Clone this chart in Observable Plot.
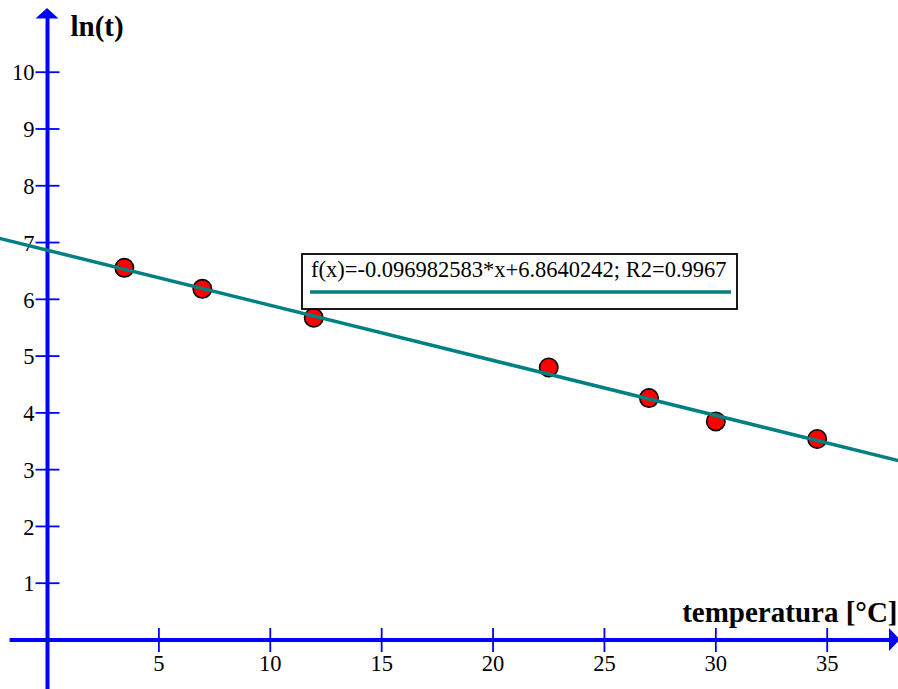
<!DOCTYPE html>
<html><head><meta charset="utf-8">
<script src="https://cdn.jsdelivr.net/npm/d3@7"></script>
<script src="https://cdn.jsdelivr.net/npm/@observablehq/plot@0.6"></script>
<style>body{margin:0;background:#fff}#chart{width:898px;height:689px}</style>
</head><body><div id="chart"></div>
<script>
// data
const temperature = [3.45, 6.95, 11.95, 22.5, 27.0, 30.0, 34.55];
const lnT = [6.555, 6.185, 5.675, 4.80, 4.26, 3.85, 3.54];
const xTicks = [5, 10, 15, 20, 25, 30, 35];
const yTicks = [1, 2, 3, 4, 5, 6, 7, 8, 9, 10];
const slope = -0.096982583;
const intercept = 6.8640242;
const legendLabel = "f(x)=-0.096982583*x+6.8640242; R2=0.9967";
const yTitle = "ln(t)";
const xTitle = "temperatura [°C]";

const xDomain = [-2.11, 38.2];
const yDomain = [-0.872, 11.263];
const axisColor = "#0000ff";
const fitColor = "#008080";
const font = "'Liberation Serif', 'Times New Roman', serif";

const points = temperature.map((t, i) => ({t, v: lnT[i]}));
const fit = xDomain.map(x => ({t: x, v: slope * x + intercept}));

const hTick = {draw(ctx, size) { const r = Math.sqrt(size / Math.PI); ctx.moveTo(-r, 0); ctx.lineTo(r, 0); }};
const vTick = {draw(ctx, size) { const r = Math.sqrt(size / Math.PI); ctx.moveTo(0, -r); ctx.lineTo(0, r); }};

const arrows = (index, {x, y}) => {
  const g = d3.create("svg:g").attr("fill", axisColor);
  const x0 = x(0), y0 = y(0);
  const top = 8, right = 900;
  g.append("path").attr("d", `M${x0},${top}L${x0 - 11.5},${top + 10.5}L${x0 + 11.5},${top + 10.5}Z`);
  g.append("path").attr("d", `M${right},${y0}L${right - 11},${y0 - 11.5}L${right - 11},${y0 + 11.5}Z`);
  return g.node();
};

const legend = () => {
  const g = d3.create("svg:g");
  g.append("rect").attr("x", 302).attr("y", 254).attr("width", 435).attr("height", 55)
    .attr("fill", "white").attr("stroke", "black").attr("stroke-width", 1.8);
  g.append("text").attr("x", 311).attr("y", 277).attr("text-anchor", "start")
    .attr("font-family", font).attr("font-size", 22.5)
    .attr("fill", "black").text(legendLabel);
  g.append("line").attr("x1", 310).attr("x2", 731).attr("y1", 292).attr("y2", 292)
    .attr("stroke", fitColor).attr("stroke-width", 3.5);
  return g.node();
};

const chart = Plot.plot({
  width: 898,
  height: 689,
  margin: 0,
  style: {fontFamily: font, background: "white", overflow: "hidden"},
  x: {domain: xDomain, axis: null},
  y: {domain: yDomain, axis: null},
  marks: [
    Plot.ruleY([0], {x1: -1.68, x2: xDomain[1], stroke: axisColor, strokeWidth: 4}),
    Plot.ruleX([0], {y1: yDomain[0], y2: 11.0, stroke: axisColor, strokeWidth: 4}),
    Plot.dot(yTicks, {x: 0, y: d => d, symbol: hTick, r: 12, stroke: axisColor, fill: "none", strokeWidth: 1.8}),
    Plot.dot(xTicks, {x: d => d, y: 0, symbol: vTick, r: 12, stroke: axisColor, fill: "none", strokeWidth: 1.8}),
    Plot.text(yTicks, {x: 0, y: d => d, text: d => String(d), textAnchor: "end", dx: -13, dy: 1, fontSize: 22.5, fill: "black"}),
    Plot.text(xTicks, {x: d => d, y: 0, text: d => String(d), dy: 24, fontSize: 22.5, fill: "black"}),
    arrows,
    Plot.dot(points, {x: "t", y: "v", r: 9.2, fill: "#ff0000", stroke: "black", strokeWidth: 1.6}),
    Plot.line(fit, {x: "t", y: "v", stroke: fitColor, strokeWidth: 3.5}),
    legend,
    Plot.text([yTitle], {frameAnchor: "top-left", dx: 70, dy: 15, text: d => d, fontSize: 29, fontWeight: "bold", textAnchor: "start", lineAnchor: "top", fill: "black"}),
    Plot.text([xTitle], {x: xDomain[1], y: 0, text: d => d, fontSize: 29, fontWeight: "bold", textAnchor: "end", dx: -1, dy: -18, lineAnchor: "bottom", fill: "black"})
  ]
});
document.getElementById("chart").append(chart);
</script>
</body></html>
